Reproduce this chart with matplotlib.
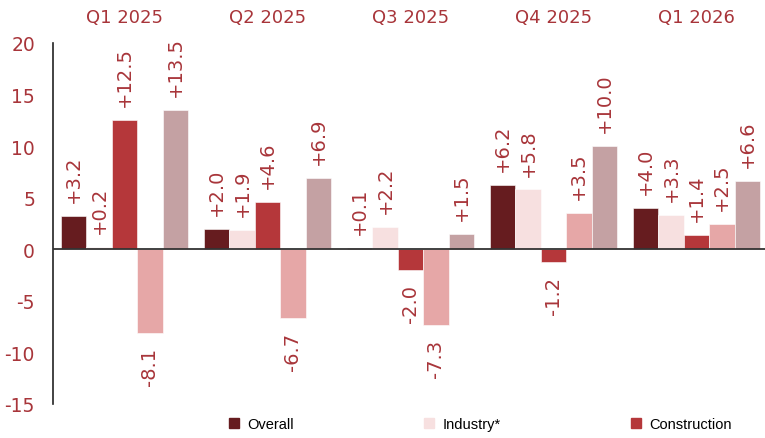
import numpy as np
import matplotlib.pyplot as plt
from matplotlib.lines import Line2D

quarters = ['Q1 2025', 'Q2 2025', 'Q3 2025', 'Q4 2025', 'Q1 2026']
series_names = ['Overall', 'Industry*', 'Construction', 'Series 4', 'Series 5']
overall = [3.2, 2.0, 0.1, 6.2, 4.0]
industry = [0.2, 1.9, 2.2, 5.8, 3.3]
construction = [12.5, 4.6, -2.0, -1.2, 1.4]
series4 = [-8.1, -6.7, -7.3, 3.5, 2.5]
series5 = [13.5, 6.9, 1.5, 10.0, 6.6]

colors = ['#661c1f', '#f7e0e0', '#b5373a', '#e6a7a7', '#c4a1a3']
label_color = '#a8353a'


def main():
    plt.rcParams['axes.unicode_minus'] = False
    fig = plt.figure(figsize=(7.65, 4.39), dpi=100)
    ax = fig.add_axes([53 / 765, 1 - 405 / 439, 1 - 53 / 765, (405 - 44) / 439])

    data = [overall, industry, construction, series4, series5]
    x = np.arange(len(quarters))
    width = 0.178
    for k, vals in enumerate(data):
        pos = x + (k - 2) * width
        ax.bar(pos, vals, width=width, color=colors[k], edgecolor='white',
               linewidth=0.4, zorder=2)
        for xi, v in zip(pos, vals):
            txt = f'+{v:.1f}' if v >= 0 else f'{v:.1f}'
            ax.annotate(txt, (xi, v), xytext=(0, 10 if v >= 0 else -10),
                        textcoords='offset points', rotation=90,
                        ha='center', va='bottom' if v >= 0 else 'top',
                        fontsize=14, color=label_color)

    ax.axhline(0, color='#333333', lw=1.3, zorder=3)
    ax.set_xlim(-0.5, 4.48)
    ax.set_ylim(-15, 20)
    ax.set_yticks([-15, -10, -5, 0, 5, 10, 15, 20])
    ax.tick_params(axis='y', length=0, pad=13, labelsize=13.5, labelcolor=label_color)
    ax.set_xticks([])
    for s in ['top', 'right', 'bottom']:
        ax.spines[s].set_visible(False)
    ax.spines['left'].set_color('#222222')
    ax.spines['left'].set_linewidth(1.2)

    for xi, q in zip(x, quarters):
        fig.text((53 + (xi + 0.5) * 143) / 765, 1 - 18 / 439, q, ha='center', va='center',
                 fontsize=13, color=label_color)

    handles = [Line2D([], [], marker='s', ls='', color=colors[k], markersize=7)
               for k in range(3)]
    fig.legend(handles, series_names[:3], loc='center left',
               bbox_to_anchor=(228 / 765, 1 - 425 / 439), ncol=3, frameon=False,
               prop={'family': 'Liberation Sans', 'size': 10.5},
               handlelength=0.8, handletextpad=0.5, columnspacing=8.9,
               borderpad=0, borderaxespad=0)

    fig.savefig('out.png', dpi=100)


if __name__ == '__main__':
    main()
